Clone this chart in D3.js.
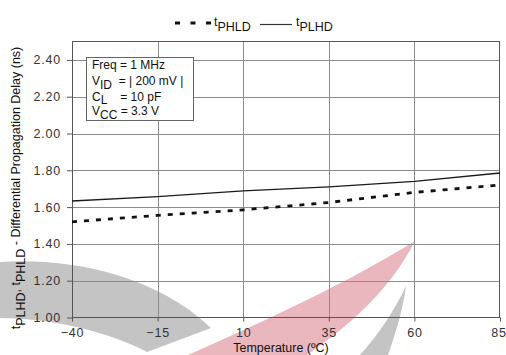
<!DOCTYPE html>
<html>
<head>
<meta charset="utf-8">
<script src="https://cdn.jsdelivr.net/npm/d3@7/dist/d3.min.js"></script>
<style>
  html, body { margin: 0; padding: 0; background: #fff; }
  svg { display: block; font-family: "Liberation Sans", Arial, sans-serif; }
  text { white-space: pre; }
</style>
</head>
<body>
<svg id="chart" width="506" height="355"></svg>
<script>
// Temperature sweep (°C) and the two differential propagation delays (ns)
const temperatures = [-40, -15, 10, 35, 60, 85];
const tPHLD = [1.52, 1.555, 1.585, 1.625, 1.68, 1.72];
const tPLHD = [1.633, 1.657, 1.688, 1.71, 1.74, 1.785];

const xTicks = [-40, -15, 10, 35, 60, 85];
const yTicks = [1.0, 1.2, 1.4, 1.6, 1.8, 2.0, 2.2, 2.4];
const yDomain = [1.0, 2.5];

// Test-condition annotation lines: [main, subscript, rest]
const conditions = [
  ["Freq = 1 MHz", "", ""],
  ["V", "ID", "  = | 200 mV |"],
  ["C", "L", "    = 10 pF"],
  ["V", "CC", " = 3.3 V"]
];

const svg = d3.select("#chart");
const plotL = 72, plotR = 500, plotT = 41.5, plotB = 317.5;

const x = d3.scaleLinear().domain([-40, 85]).range([plotL, plotR]);
const y = d3.scaleLinear().domain(yDomain).range([plotB, plotT]);

// Background logo swooshes
const wm = svg.append("g");
wm.append("path")
  .attr("d", "M0,262 C60,258 150,270 211,328 L147,352 C110,332 50,318 0,318 Z")
  .attr("fill", "#c4c4c4");
wm.append("path")
  .attr("d", "M415,241 C360,275 290,310 188,355 L307,355 C350,325 390,290 415,241 Z")
  .attr("fill", "#eab7bf");
wm.append("path")
  .attr("d", "M406,286 C395,310 378,335 360,355 L388,355 C395,335 403,310 406,286 Z")
  .attr("fill", "#c4c4c4");

// Gridlines
const grid = svg.append("g").attr("stroke", "#8c8c8c").attr("stroke-width", 1);
grid.selectAll("line.v").data(xTicks.slice(1, -1)).join("line")
  .attr("x1", d => Math.round(x(d)) + 0.5).attr("x2", d => Math.round(x(d)) + 0.5)
  .attr("y1", plotT).attr("y2", plotB);
grid.selectAll("line.h").data(yTicks.slice(1)).join("line")
  .attr("y1", d => Math.round(y(d)) + 0.5).attr("y2", d => Math.round(y(d)) + 0.5)
  .attr("x1", plotL).attr("x2", plotR);

// Axes
const yAxis = d3.axisLeft(y).tickValues(yTicks).tickFormat(d3.format(".2f")).tickSize(5).tickPadding(6);
const xAxis = d3.axisBottom(x).tickValues(xTicks).tickFormat(d3.format("d")).tickSize(4).tickPadding(7);

const gy = svg.append("g").attr("transform", `translate(${plotL},0)`).call(yAxis);
const gx = svg.append("g").attr("transform", `translate(0,${plotB})`).call(xAxis);
[gy, gx].forEach(g => {
  g.select(".domain").remove();
  g.selectAll(".tick line").attr("stroke", "#555");
  g.selectAll(".tick text")
    .attr("fill", "#333")
    .style("font-size", "12.5px")
    .style("letter-spacing", "0.8px")
    .style("font-family", "'Liberation Sans', Arial, sans-serif");
});
// keep the last x label inside the page edge
gx.selectAll(".tick text").filter(d => d === xTicks[xTicks.length - 1]).attr("dx", -1.5);

// Plot frame
svg.append("rect")
  .attr("x", plotL + 0.5).attr("y", plotT)
  .attr("width", plotR - plotL - 1).attr("height", plotB - plotT)
  .attr("fill", "none").attr("stroke", "#555").attr("stroke-width", 1);

// Series
const line = d3.line().x((d, i) => x(temperatures[i])).y(d => y(d));
svg.append("path").datum(tPLHD)
  .attr("d", line).attr("fill", "none")
  .attr("stroke", "#1a1a1a").attr("stroke-width", 1.4);
svg.append("path").datum(tPHLD)
  .attr("d", line).attr("fill", "none")
  .attr("stroke", "#111").attr("stroke-width", 2.8)
  .attr("stroke-dasharray", "5,7");

// Conditions box
svg.append("rect")
  .attr("x", 86.5).attr("y", 57.5).attr("width", 107).attr("height", 63)
  .attr("fill", "#fff").attr("stroke", "#666").attr("stroke-width", 1);
const condY = [69, 85, 100.5, 115];
conditions.forEach((c, i) => {
  const t = svg.append("text").attr("x", 92).attr("y", condY[i])
    .attr("fill", "#111").style("font-size", "12px");
  t.append("tspan").text(c[0]);
  if (c[1]) t.append("tspan").attr("dy", 3.5).text(c[1]);
  if (c[2]) t.append("tspan").attr("dy", c[1] ? -3.5 : 0).text(c[2]);
});

// Legend
const lg = svg.append("g");
lg.append("line").attr("x1", 175).attr("x2", 212).attr("y1", 23).attr("y2", 23)
  .attr("stroke", "#111").attr("stroke-width", 2.8).attr("stroke-dasharray", "5,10.5");
const l1 = lg.append("text").attr("x", 214).attr("y", 26).attr("fill", "#111").style("font-size", "12.5px");
l1.append("tspan").text("t");
l1.append("tspan").attr("dy", 5).text("PHLD");
lg.append("line").attr("x1", 260).attr("x2", 292).attr("y1", 24.5).attr("y2", 24.5)
  .attr("stroke", "#333").attr("stroke-width", 1.2);
const l2 = lg.append("text").attr("x", 296).attr("y", 26).attr("fill", "#111").style("font-size", "12.5px");
l2.append("tspan").text("t");
l2.append("tspan").attr("dy", 5).text("PLHD");

// Y-axis title
const yt = svg.append("text")
  .attr("transform", "translate(20,188) rotate(-90)")
  .attr("text-anchor", "middle")
  .attr("fill", "#111").style("font-size", "12.5px");
yt.append("tspan").text("t");
yt.append("tspan").attr("dy", 5).text("PLHD");
yt.append("tspan").attr("dy", -5).text(", t");
yt.append("tspan").attr("dy", 5).text("PHLD");
yt.append("tspan").attr("dy", -5).text(" - Differential Propagation Delay (ns)");

// X-axis title
svg.append("text")
  .attr("x", 281).attr("y", 352)
  .attr("text-anchor", "middle")
  .attr("fill", "#111").style("font-size", "12.5px")
  .text("Temperature (ºC)");
</script>
</body>
</html>
